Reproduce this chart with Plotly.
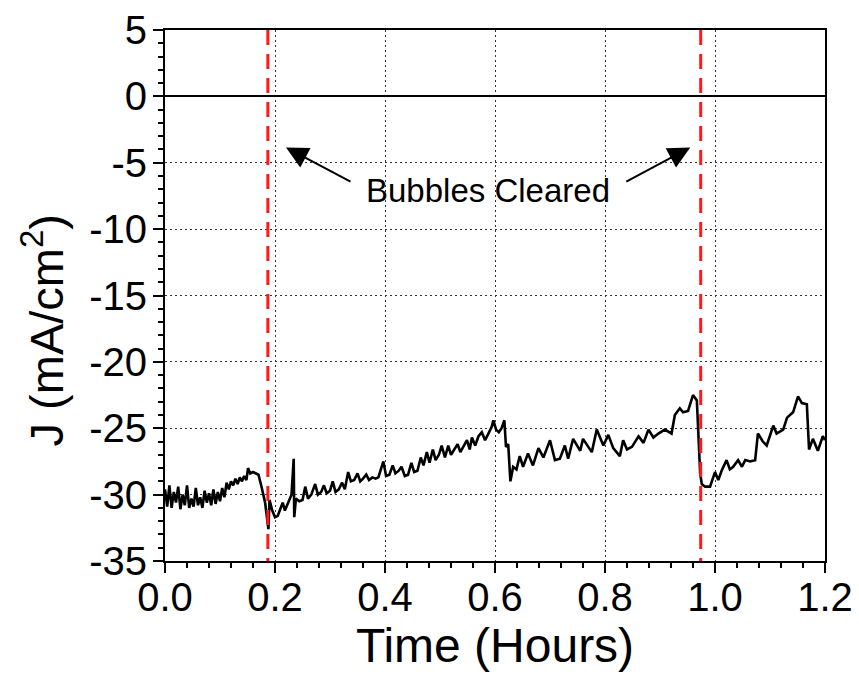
import plotly.graph_objects as go

# ---------------- data ----------------
time_h = [
    0.000, 0.004, 0.008, 0.012, 0.016, 0.020, 0.024, 0.028, 0.032, 0.036,
    0.040, 0.044, 0.048, 0.052, 0.056, 0.060, 0.064, 0.068, 0.072, 0.076,
    0.080, 0.084, 0.088, 0.092, 0.096, 0.100, 0.104, 0.108, 0.112, 0.116,
    0.120, 0.124, 0.128, 0.132, 0.136, 0.140, 0.144, 0.148, 0.151, 0.155,
    0.160, 0.165, 0.170, 0.176, 0.182, 0.188, 0.190, 0.195, 0.200, 0.205,
    0.210, 0.214, 0.218, 0.222, 0.226, 0.230, 0.234, 0.235, 0.238, 0.244,
    0.250, 0.255, 0.260, 0.266, 0.273, 0.278, 0.284, 0.289, 0.294, 0.300,
    0.305, 0.310, 0.316, 0.322, 0.327, 0.333, 0.338, 0.344, 0.350, 0.355,
    0.360, 0.366, 0.371, 0.377, 0.383, 0.388, 0.397, 0.402, 0.408, 0.414,
    0.419, 0.425, 0.430, 0.436, 0.442, 0.448, 0.453, 0.459, 0.465, 0.470,
    0.476, 0.481, 0.487, 0.492, 0.498, 0.503, 0.509, 0.515, 0.520, 0.526,
    0.532, 0.537, 0.543, 0.549, 0.554, 0.558, 0.564, 0.570, 0.576, 0.582,
    0.588, 0.594, 0.597, 0.602, 0.607, 0.612, 0.617, 0.620, 0.624, 0.628,
    0.633, 0.639, 0.645, 0.651, 0.660, 0.669, 0.679, 0.688, 0.700, 0.709,
    0.718, 0.727, 0.733, 0.742, 0.755, 0.760, 0.776, 0.785, 0.797, 0.806,
    0.815, 0.827, 0.833, 0.840, 0.849, 0.861, 0.870, 0.879, 0.888, 0.897,
    0.909, 0.921, 0.927, 0.936, 0.942, 0.951, 0.960, 0.967, 0.973, 0.976,
    0.982, 0.991, 1.000, 1.006, 1.012, 1.021, 1.027, 1.033, 1.042, 1.049,
    1.055, 1.064, 1.073, 1.078, 1.087, 1.094, 1.106, 1.112, 1.124, 1.131,
    1.142, 1.151, 1.158, 1.167, 1.171, 1.178, 1.187, 1.196, 1.200,
]
current_density = [
    -29.6, -30.9, -29.3, -31.0, -29.8, -30.6, -29.4, -31.1, -30.0, -30.8,
    -29.3, -31.0, -30.3, -30.9, -29.5, -30.8, -30.2, -31.0, -29.7, -30.6,
    -29.9, -30.8, -29.6, -30.7, -29.8, -30.5, -29.5, -30.2, -29.1, -29.6,
    -29.0, -29.3, -28.8, -29.2, -28.7, -29.0, -28.6, -28.9, -28.0, -28.4,
    -28.3, -28.4, -28.5, -29.5, -30.6, -32.6, -30.4, -31.2, -31.7, -31.6,
    -31.0, -30.6, -31.2, -30.8, -30.4, -30.0, -27.3, -31.7, -30.3, -30.5,
    -30.4, -29.4, -30.3, -30.0, -29.2, -30.0, -29.8, -29.3, -29.9, -29.7,
    -29.0, -29.8, -29.6, -29.1, -29.6, -28.3, -29.0, -28.9, -28.4, -29.0,
    -28.8, -28.5, -28.9, -28.7, -28.8, -28.7, -27.5, -28.6, -28.5, -27.8,
    -28.4, -28.2, -27.9, -28.6, -28.5, -27.6, -28.3, -28.2, -27.2, -27.8,
    -26.8, -27.6, -26.6, -27.4, -27.0, -26.3, -27.2, -26.3, -27.0, -26.6,
    -26.2, -26.8, -26.4, -25.9, -26.6, -25.7, -26.3, -25.6, -25.3, -25.9,
    -25.4, -24.9, -24.4, -25.1, -25.3, -25.0, -24.4, -26.4, -26.2, -29.0,
    -27.9, -28.1, -27.1, -27.9, -26.9, -27.8, -26.5, -27.2, -25.9, -27.4,
    -27.3, -26.3, -27.3, -25.8, -26.7, -25.8, -26.8, -25.1, -26.3, -25.5,
    -26.5, -27.1, -25.9, -26.6, -26.4, -25.6, -26.1, -25.1, -25.7, -25.4,
    -25.1, -25.4, -24.0, -23.5, -23.8, -23.7, -22.5, -22.9, -28.4, -29.2,
    -29.4, -29.4, -28.3, -28.9, -28.2, -27.4, -28.1, -27.9, -27.4, -27.9,
    -27.4, -27.5, -27.4, -25.4, -26.0, -26.3, -24.8, -25.4, -25.1, -24.2,
    -23.8, -22.6, -23.1, -23.2, -26.6, -25.8, -26.7, -25.6, -25.9,
]
cleared_times = [0.187, 0.974]          # red dashed markers
annotation_label = "Bubbles Cleared"

x_tick_vals = [0.0, 0.2, 0.4, 0.6, 0.8, 1.0, 1.2]
x_tick_text = ["0.0", "0.2", "0.4", "0.6", "0.8", "1.0", "1.2"]
y_tick_vals = [-35, -30, -25, -20, -15, -10, -5, 0, 5]
y_tick_text = ["-35", "-30", "-25", "-20", "-15", "-10", "-5", "0", "5"]

FONT = "Liberation Sans, Arial, sans-serif"

fig = go.Figure()
fig.add_trace(go.Scatter(
    x=time_h, y=current_density, mode="lines",
    line=dict(color="black", width=2.6), showlegend=False, hoverinfo="skip",
))

for t in cleared_times:
    fig.add_shape(type="line", xref="x", yref="y", x0=t, x1=t, y0=5, y1=-35,
                  line=dict(color="#ff1a1a", width=3, dash="15px,9px"))

# label + arrows
fig.add_annotation(x=0.5864, y=-7.1, xref="x", yref="y", text=annotation_label,
                   showarrow=False, font=dict(family=FONT, size=33, color="black"))
for tip_x, tail_x in [(0.220, 0.340), (0.955, 0.836)]:
    fig.add_annotation(x=tip_x, y=-3.85, ax=tail_x, ay=-6.49,
                       xref="x", yref="y", axref="x", ayref="y",
                       text="", showarrow=True, arrowhead=2, arrowsize=2.2,
                       arrowwidth=2, arrowcolor="black", standoff=0)

# y axis title as annotation (offset like the reference)
fig.add_annotation(x=-0.185, y=0.434, xref="paper", yref="paper",
                   xanchor="center", yanchor="middle",
                   text="J (mA/cm<sup>2</sup>)", textangle=-90, showarrow=False,
                   font=dict(family=FONT, size=47, color="black"))

axis_common = dict(
    showline=True, linecolor="black", linewidth=2, mirror=True,
    ticks="outside", ticklen=10, tickwidth=2, tickcolor="black",
    showgrid=True, gridcolor="#333333", gridwidth=1, griddash="2px,3px",
    tickfont=dict(family=FONT, size=40, color="black"),
    automargin=False,
)

fig.update_xaxes(
    range=[0, 1.2], tickvals=x_tick_vals, ticktext=x_tick_text,
    zeroline=False,
    minor=dict(dtick=0.04, tick0=0, ticks="outside", ticklen=5, tickwidth=2,
               tickcolor="black", showgrid=False),
    title=dict(text="Time (Hours)", font=dict(family=FONT, size=48, color="black"),
               standoff=2),
    ticklabelstandoff=-10,
    **axis_common,
)
fig.update_yaxes(
    range=[-35, 5], tickvals=y_tick_vals, ticktext=y_tick_text,
    zeroline=True, zerolinecolor="black", zerolinewidth=2,
    minor=dict(dtick=1, tick0=0, ticks="outside", ticklen=5, tickwidth=2,
               tickcolor="black", showgrid=False),
    ticklabelstandoff=-2,
    **axis_common,
)

fig.update_layout(
    width=859, height=676,
    margin=dict(l=165, r=34, t=30, b=115),
    paper_bgcolor="white", plot_bgcolor="white",
    font=dict(family=FONT, color="black"),
    showlegend=False,
)

fig.write_html("out.html")
